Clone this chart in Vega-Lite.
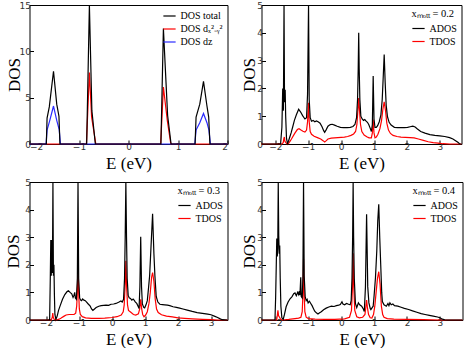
{
"$schema":"https://vega.github.io/schema/vega-lite/v6.json",
"padding":{"left":3.5,"top":0,"right":2,"bottom":0},
"spacing":5,
"resolve":{"scale":{"color":"independent"},"legend":{"color":"independent"}},
"config":{
 "view":{"stroke":"black","strokeWidth":1},
 "axis":{"grid":false,"domain":false,"tickSize":-4,"tickColor":"black","labelFont":"DejaVu Sans","labelFontSize":9,"labelColor":"#333","labelPadding":3,"titleFont":"Liberation Serif","titleFontSize":17,"titleFontWeight":"normal","titleColor":"black"},
 "axisX":{"titlePadding":4,"labelPadding":2},
 "legend":{"labelFont":"Liberation Serif","labelFontSize":10,"titleFont":"Liberation Serif","titleFontSize":10.5,"titleFontWeight":"normal","titleColor":"black","labelColor":"black","symbolType":"M-1,0L1,0","symbolStrokeWidth":2,"symbolSize":150,"rowPadding":1,"titlePadding":2,"offset":4,"padding":0,"labelLimit":200},
 "line":{"strokeWidth":1.2,"clip":true}
},
"datasets":{
"p1":[
{"s":"DOS total","E":-2,"v":0},{"s":"DOS total","E":-1.66,"v":0},{"s":"DOS total","E":-1.645,"v":2.8},{"s":"DOS total","E":-1.6,"v":4.0},{"s":"DOS total","E":-1.515,"v":7.85},{"s":"DOS total","E":-1.45,"v":4.3},{"s":"DOS total","E":-1.405,"v":3.0},{"s":"DOS total","E":-1.385,"v":0},{"s":"DOS total","E":-0.845,"v":0},{"s":"DOS total","E":-0.79,"v":15.6},{"s":"DOS total","E":-0.74,"v":3.6},{"s":"DOS total","E":-0.67,"v":0},{"s":"DOS total","E":0.655,"v":0},{"s":"DOS total","E":0.705,"v":12.45},{"s":"DOS total","E":0.79,"v":3.1},{"s":"DOS total","E":0.86,"v":0},{"s":"DOS total","E":1.345,"v":0},{"s":"DOS total","E":1.365,"v":2.9},{"s":"DOS total","E":1.44,"v":4.3},{"s":"DOS total","E":1.515,"v":6.75},{"s":"DOS total","E":1.585,"v":4.1},{"s":"DOS total","E":1.62,"v":2.9},{"s":"DOS total","E":1.645,"v":0},{"s":"DOS total","E":2,"v":0},
{"s":"DOS dₓ²₋ᵧ²","E":-2,"v":0},{"s":"DOS dₓ²₋ᵧ²","E":-0.85,"v":0},{"s":"DOS dₓ²₋ᵧ²","E":-0.79,"v":7.7},{"s":"DOS dₓ²₋ᵧ²","E":-0.745,"v":2.9},{"s":"DOS dₓ²₋ᵧ²","E":-0.66,"v":0},{"s":"DOS dₓ²₋ᵧ²","E":0.65,"v":0},{"s":"DOS dₓ²₋ᵧ²","E":0.705,"v":6.15},{"s":"DOS dₓ²₋ᵧ²","E":0.785,"v":2.5},{"s":"DOS dₓ²₋ᵧ²","E":0.855,"v":0},{"s":"DOS dₓ²₋ᵧ²","E":2,"v":0},
{"s":"DOS dz","E":-2,"v":0},{"s":"DOS dz","E":-1.665,"v":0},{"s":"DOS dz","E":-1.645,"v":1.5},{"s":"DOS dz","E":-1.59,"v":2.55},{"s":"DOS dz","E":-1.515,"v":4.1},{"s":"DOS dz","E":-1.45,"v":2.55},{"s":"DOS dz","E":-1.4,"v":1.55},{"s":"DOS dz","E":-1.375,"v":0},{"s":"DOS dz","E":1.34,"v":0},{"s":"DOS dz","E":1.365,"v":1.5},{"s":"DOS dz","E":1.44,"v":2.3},{"s":"DOS dz","E":1.515,"v":3.3},{"s":"DOS dz","E":1.585,"v":2.3},{"s":"DOS dz","E":1.625,"v":1.5},{"s":"DOS dz","E":1.655,"v":0},{"s":"DOS dz","E":2,"v":0}
],
"p2":[
{"s":"ADOS","E":-2.42,"v":0},{"s":"ADOS","E":-1.84,"v":0},{"s":"ADOS","E":-1.8,"v":0.6},{"s":"ADOS","E":-1.775,"v":2.0},{"s":"ADOS","E":-1.755,"v":1.2},{"s":"ADOS","E":-1.735,"v":5.6},{"s":"ADOS","E":-1.72,"v":1.5},{"s":"ADOS","E":-1.7,"v":1.95},{"s":"ADOS","E":-1.685,"v":1.0},{"s":"ADOS","E":-1.66,"v":0.2},{"s":"ADOS","E":-1.63,"v":0.02},{"s":"ADOS","E":-1.6,"v":0.1},{"s":"ADOS","E":-1.56,"v":0.25},{"s":"ADOS","E":-1.52,"v":0.4},{"s":"ADOS","E":-1.47,"v":0.62},{"s":"ADOS","E":-1.42,"v":0.85},{"s":"ADOS","E":-1.36,"v":1.05},{"s":"ADOS","E":-1.29,"v":1.25},{"s":"ADOS","E":-1.23,"v":1.15},{"s":"ADOS","E":-1.17,"v":1.02},{"s":"ADOS","E":-1.1,"v":0.9},{"s":"ADOS","E":-1.05,"v":0.95},{"s":"ADOS","E":-1.02,"v":1.8},{"s":"ADOS","E":-0.99,"v":5.6},{"s":"ADOS","E":-0.97,"v":1.6},{"s":"ADOS","E":-0.94,"v":0.95},{"s":"ADOS","E":-0.9,"v":0.82},{"s":"ADOS","E":-0.85,"v":0.85},{"s":"ADOS","E":-0.8,"v":0.8},{"s":"ADOS","E":-0.75,"v":0.83},{"s":"ADOS","E":-0.7,"v":0.8},{"s":"ADOS","E":-0.64,"v":0.75},{"s":"ADOS","E":-0.58,"v":0.62},{"s":"ADOS","E":-0.53,"v":0.48},{"s":"ADOS","E":-0.5,"v":0.42},{"s":"ADOS","E":-0.46,"v":0.5},{"s":"ADOS","E":-0.4,"v":0.64},{"s":"ADOS","E":-0.33,"v":0.7},{"s":"ADOS","E":-0.27,"v":0.71},{"s":"ADOS","E":-0.2,"v":0.68},{"s":"ADOS","E":-0.12,"v":0.64},{"s":"ADOS","E":-0.02,"v":0.6},{"s":"ADOS","E":0.08,"v":0.59},{"s":"ADOS","E":0.18,"v":0.59},{"s":"ADOS","E":0.28,"v":0.6},{"s":"ADOS","E":0.36,"v":0.63},{"s":"ADOS","E":0.42,"v":0.7},{"s":"ADOS","E":0.47,"v":0.95},{"s":"ADOS","E":0.5,"v":1.6},{"s":"ADOS","E":0.52,"v":2.7},{"s":"ADOS","E":0.535,"v":4.0},{"s":"ADOS","E":0.55,"v":2.7},{"s":"ADOS","E":0.57,"v":1.6},{"s":"ADOS","E":0.6,"v":1.0},{"s":"ADOS","E":0.64,"v":0.9},{"s":"ADOS","E":0.68,"v":0.85},{"s":"ADOS","E":0.72,"v":0.88},{"s":"ADOS","E":0.76,"v":0.82},{"s":"ADOS","E":0.8,"v":0.78},{"s":"ADOS","E":0.84,"v":0.7},{"s":"ADOS","E":0.88,"v":0.58},{"s":"ADOS","E":0.92,"v":0.45},{"s":"ADOS","E":0.95,"v":0.7},{"s":"ADOS","E":0.975,"v":2.45},{"s":"ADOS","E":1.0,"v":0.9},{"s":"ADOS","E":1.03,"v":0.6},{"s":"ADOS","E":1.07,"v":0.6},{"s":"ADOS","E":1.11,"v":0.66},{"s":"ADOS","E":1.16,"v":0.8},{"s":"ADOS","E":1.21,"v":1.05},{"s":"ADOS","E":1.25,"v":1.6},{"s":"ADOS","E":1.28,"v":2.4},{"s":"ADOS","E":1.31,"v":3.22},{"s":"ADOS","E":1.34,"v":2.2},{"s":"ADOS","E":1.37,"v":1.4},{"s":"ADOS","E":1.41,"v":0.98},{"s":"ADOS","E":1.46,"v":0.78},{"s":"ADOS","E":1.52,"v":0.68},{"s":"ADOS","E":1.62,"v":0.6},{"s":"ADOS","E":1.72,"v":0.59},{"s":"ADOS","E":1.82,"v":0.59},{"s":"ADOS","E":1.92,"v":0.59},{"s":"ADOS","E":2.02,"v":0.6},{"s":"ADOS","E":2.1,"v":0.62},{"s":"ADOS","E":2.18,"v":0.64},{"s":"ADOS","E":2.25,"v":0.61},{"s":"ADOS","E":2.32,"v":0.54},{"s":"ADOS","E":2.42,"v":0.45},{"s":"ADOS","E":2.55,"v":0.39},{"s":"ADOS","E":2.7,"v":0.34},{"s":"ADOS","E":2.85,"v":0.31},{"s":"ADOS","E":3.0,"v":0.29},{"s":"ADOS","E":3.15,"v":0.27},{"s":"ADOS","E":3.3,"v":0.23},{"s":"ADOS","E":3.4,"v":0.18},{"s":"ADOS","E":3.48,"v":0.12},{"s":"ADOS","E":3.55,"v":0.06},{"s":"ADOS","E":3.6,"v":0.01},{"s":"ADOS","E":3.66,"v":0},
{"s":"TDOS","E":-2.42,"v":0},{"s":"TDOS","E":-1.8,"v":0},{"s":"TDOS","E":-1.76,"v":0.05},{"s":"TDOS","E":-1.74,"v":0.2},{"s":"TDOS","E":-1.725,"v":0.25},{"s":"TDOS","E":-1.71,"v":0.1},{"s":"TDOS","E":-1.68,"v":0.05},{"s":"TDOS","E":-1.64,"v":0},{"s":"TDOS","E":-1.6,"v":0.02},{"s":"TDOS","E":-1.55,"v":0.1},{"s":"TDOS","E":-1.5,"v":0.2},{"s":"TDOS","E":-1.45,"v":0.3},{"s":"TDOS","E":-1.4,"v":0.4},{"s":"TDOS","E":-1.33,"v":0.52},{"s":"TDOS","E":-1.28,"v":0.55},{"s":"TDOS","E":-1.22,"v":0.5},{"s":"TDOS","E":-1.16,"v":0.46},{"s":"TDOS","E":-1.1,"v":0.43},{"s":"TDOS","E":-1.05,"v":0.5},{"s":"TDOS","E":-1.02,"v":0.8},{"s":"TDOS","E":-0.99,"v":1.48},{"s":"TDOS","E":-0.97,"v":0.8},{"s":"TDOS","E":-0.94,"v":0.45},{"s":"TDOS","E":-0.9,"v":0.35},{"s":"TDOS","E":-0.82,"v":0.28},{"s":"TDOS","E":-0.72,"v":0.23},{"s":"TDOS","E":-0.62,"v":0.18},{"s":"TDOS","E":-0.55,"v":0.12},{"s":"TDOS","E":-0.5,"v":0.07},{"s":"TDOS","E":-0.45,"v":0.12},{"s":"TDOS","E":-0.4,"v":0.18},{"s":"TDOS","E":-0.3,"v":0.21},{"s":"TDOS","E":-0.2,"v":0.22},{"s":"TDOS","E":-0.1,"v":0.23},{"s":"TDOS","E":0.0,"v":0.24},{"s":"TDOS","E":0.1,"v":0.25},{"s":"TDOS","E":0.2,"v":0.27},{"s":"TDOS","E":0.3,"v":0.31},{"s":"TDOS","E":0.38,"v":0.36},{"s":"TDOS","E":0.44,"v":0.45},{"s":"TDOS","E":0.48,"v":0.7},{"s":"TDOS","E":0.51,"v":1.2},{"s":"TDOS","E":0.535,"v":1.65},{"s":"TDOS","E":0.56,"v":1.2},{"s":"TDOS","E":0.59,"v":0.7},{"s":"TDOS","E":0.63,"v":0.45},{"s":"TDOS","E":0.7,"v":0.32},{"s":"TDOS","E":0.78,"v":0.26},{"s":"TDOS","E":0.85,"v":0.22},{"s":"TDOS","E":0.92,"v":0.22},{"s":"TDOS","E":0.95,"v":0.4},{"s":"TDOS","E":0.975,"v":0.88},{"s":"TDOS","E":1.0,"v":0.4},{"s":"TDOS","E":1.03,"v":0.22},{"s":"TDOS","E":1.07,"v":0.25},{"s":"TDOS","E":1.12,"v":0.35},{"s":"TDOS","E":1.18,"v":0.55},{"s":"TDOS","E":1.23,"v":0.85},{"s":"TDOS","E":1.27,"v":1.25},{"s":"TDOS","E":1.31,"v":1.52},{"s":"TDOS","E":1.35,"v":1.2},{"s":"TDOS","E":1.39,"v":0.75},{"s":"TDOS","E":1.44,"v":0.5},{"s":"TDOS","E":1.5,"v":0.38},{"s":"TDOS","E":1.58,"v":0.31},{"s":"TDOS","E":1.7,"v":0.27},{"s":"TDOS","E":1.82,"v":0.25},{"s":"TDOS","E":1.95,"v":0.24},{"s":"TDOS","E":2.1,"v":0.23},{"s":"TDOS","E":2.22,"v":0.22},{"s":"TDOS","E":2.35,"v":0.18},{"s":"TDOS","E":2.5,"v":0.13},{"s":"TDOS","E":2.65,"v":0.08},{"s":"TDOS","E":2.8,"v":0.05},{"s":"TDOS","E":2.95,"v":0.03},{"s":"TDOS","E":3.1,"v":0.01},{"s":"TDOS","E":3.3,"v":0},{"s":"TDOS","E":3.66,"v":0}
],
"p3":[
{"s":"ADOS","E":-2.5,"v":0},{"s":"ADOS","E":-1.89,"v":0},{"s":"ADOS","E":-1.87,"v":1.5},{"s":"ADOS","E":-1.855,"v":2.9},{"s":"ADOS","E":-1.84,"v":1.6},{"s":"ADOS","E":-1.82,"v":2.9},{"s":"ADOS","E":-1.805,"v":1.7},{"s":"ADOS","E":-1.79,"v":5.6},{"s":"ADOS","E":-1.775,"v":1.6},{"s":"ADOS","E":-1.76,"v":2.0},{"s":"ADOS","E":-1.745,"v":0.9},{"s":"ADOS","E":-1.73,"v":0.2},{"s":"ADOS","E":-1.7,"v":0.02},{"s":"ADOS","E":-1.66,"v":0.15},{"s":"ADOS","E":-1.62,"v":0.35},{"s":"ADOS","E":-1.57,"v":0.52},{"s":"ADOS","E":-1.5,"v":0.75},{"s":"ADOS","E":-1.43,"v":0.92},{"s":"ADOS","E":-1.36,"v":1.03},{"s":"ADOS","E":-1.32,"v":1.06},{"s":"ADOS","E":-1.27,"v":1.0},{"s":"ADOS","E":-1.22,"v":0.95},{"s":"ADOS","E":-1.18,"v":0.82},{"s":"ADOS","E":-1.15,"v":0.9},{"s":"ADOS","E":-1.13,"v":1.0},{"s":"ADOS","E":-1.11,"v":0.8},{"s":"ADOS","E":-1.08,"v":0.75},{"s":"ADOS","E":-1.05,"v":1.5},{"s":"ADOS","E":-1.03,"v":5.6},{"s":"ADOS","E":-1.01,"v":1.5},{"s":"ADOS","E":-0.98,"v":0.8},{"s":"ADOS","E":-0.95,"v":0.72},{"s":"ADOS","E":-0.92,"v":0.7},{"s":"ADOS","E":-0.89,"v":0.76},{"s":"ADOS","E":-0.85,"v":0.72},{"s":"ADOS","E":-0.81,"v":0.7},{"s":"ADOS","E":-0.77,"v":0.65},{"s":"ADOS","E":-0.72,"v":0.58},{"s":"ADOS","E":-0.66,"v":0.5},{"s":"ADOS","E":-0.62,"v":0.4},{"s":"ADOS","E":-0.58,"v":0.35},{"s":"ADOS","E":-0.53,"v":0.4},{"s":"ADOS","E":-0.48,"v":0.45},{"s":"ADOS","E":-0.4,"v":0.5},{"s":"ADOS","E":-0.33,"v":0.52},{"s":"ADOS","E":-0.25,"v":0.53},{"s":"ADOS","E":-0.18,"v":0.54},{"s":"ADOS","E":-0.1,"v":0.53},{"s":"ADOS","E":-0.03,"v":0.57},{"s":"ADOS","E":0.05,"v":0.58},{"s":"ADOS","E":0.12,"v":0.6},{"s":"ADOS","E":0.2,"v":0.64},{"s":"ADOS","E":0.27,"v":0.69},{"s":"ADOS","E":0.31,"v":0.65},{"s":"ADOS","E":0.35,"v":0.75},{"s":"ADOS","E":0.38,"v":1.5},{"s":"ADOS","E":0.4,"v":3.0},{"s":"ADOS","E":0.42,"v":5.6},{"s":"ADOS","E":0.44,"v":3.0},{"s":"ADOS","E":0.46,"v":1.5},{"s":"ADOS","E":0.49,"v":0.9},{"s":"ADOS","E":0.52,"v":0.8},{"s":"ADOS","E":0.56,"v":0.78},{"s":"ADOS","E":0.6,"v":0.72},{"s":"ADOS","E":0.64,"v":0.76},{"s":"ADOS","E":0.67,"v":0.72},{"s":"ADOS","E":0.71,"v":0.65},{"s":"ADOS","E":0.75,"v":0.6},{"s":"ADOS","E":0.79,"v":0.5},{"s":"ADOS","E":0.82,"v":0.42},{"s":"ADOS","E":0.845,"v":1.2},{"s":"ADOS","E":0.87,"v":3.02},{"s":"ADOS","E":0.895,"v":1.2},{"s":"ADOS","E":0.92,"v":0.58},{"s":"ADOS","E":0.96,"v":0.46},{"s":"ADOS","E":0.99,"v":0.44},{"s":"ADOS","E":1.03,"v":0.55},{"s":"ADOS","E":1.07,"v":0.7},{"s":"ADOS","E":1.11,"v":1.2},{"s":"ADOS","E":1.14,"v":1.6},{"s":"ADOS","E":1.18,"v":2.6},{"s":"ADOS","E":1.23,"v":3.85},{"s":"ADOS","E":1.27,"v":2.4},{"s":"ADOS","E":1.3,"v":1.6},{"s":"ADOS","E":1.34,"v":0.85},{"s":"ADOS","E":1.39,"v":0.65},{"s":"ADOS","E":1.45,"v":0.57},{"s":"ADOS","E":1.53,"v":0.56},{"s":"ADOS","E":1.6,"v":0.55},{"s":"ADOS","E":1.68,"v":0.54},{"s":"ADOS","E":1.75,"v":0.52},{"s":"ADOS","E":1.85,"v":0.48},{"s":"ADOS","E":1.95,"v":0.46},{"s":"ADOS","E":2.05,"v":0.43},{"s":"ADOS","E":2.15,"v":0.4},{"s":"ADOS","E":2.28,"v":0.36},{"s":"ADOS","E":2.43,"v":0.31},{"s":"ADOS","E":2.58,"v":0.27},{"s":"ADOS","E":2.74,"v":0.24},{"s":"ADOS","E":2.9,"v":0.21},{"s":"ADOS","E":3.0,"v":0.19},{"s":"ADOS","E":3.1,"v":0.14},{"s":"ADOS","E":3.2,"v":0.09},{"s":"ADOS","E":3.28,"v":0.04},{"s":"ADOS","E":3.34,"v":0.01},{"s":"ADOS","E":3.5,"v":0},
{"s":"TDOS","E":-2.5,"v":0},{"s":"TDOS","E":-1.84,"v":0},{"s":"TDOS","E":-1.81,"v":0.1},{"s":"TDOS","E":-1.795,"v":0.25},{"s":"TDOS","E":-1.78,"v":0.1},{"s":"TDOS","E":-1.75,"v":0.02},{"s":"TDOS","E":-1.7,"v":0},{"s":"TDOS","E":-1.6,"v":0.03},{"s":"TDOS","E":-1.54,"v":0.07},{"s":"TDOS","E":-1.45,"v":0.14},{"s":"TDOS","E":-1.39,"v":0.18},{"s":"TDOS","E":-1.3,"v":0.2},{"s":"TDOS","E":-1.23,"v":0.2},{"s":"TDOS","E":-1.15,"v":0.2},{"s":"TDOS","E":-1.1,"v":0.25},{"s":"TDOS","E":-1.07,"v":0.5},{"s":"TDOS","E":-1.05,"v":1.0},{"s":"TDOS","E":-1.03,"v":1.86},{"s":"TDOS","E":-1.01,"v":1.0},{"s":"TDOS","E":-0.99,"v":0.4},{"s":"TDOS","E":-0.96,"v":0.2},{"s":"TDOS","E":-0.9,"v":0.12},{"s":"TDOS","E":-0.8,"v":0.08},{"s":"TDOS","E":-0.63,"v":0.06},{"s":"TDOS","E":-0.4,"v":0.06},{"s":"TDOS","E":-0.22,"v":0.07},{"s":"TDOS","E":0.0,"v":0.09},{"s":"TDOS","E":0.15,"v":0.12},{"s":"TDOS","E":0.28,"v":0.18},{"s":"TDOS","E":0.34,"v":0.3},{"s":"TDOS","E":0.37,"v":0.55},{"s":"TDOS","E":0.4,"v":1.3},{"s":"TDOS","E":0.42,"v":2.15},{"s":"TDOS","E":0.44,"v":1.3},{"s":"TDOS","E":0.47,"v":0.55},{"s":"TDOS","E":0.5,"v":0.35},{"s":"TDOS","E":0.57,"v":0.28},{"s":"TDOS","E":0.65,"v":0.2},{"s":"TDOS","E":0.72,"v":0.18},{"s":"TDOS","E":0.8,"v":0.22},{"s":"TDOS","E":0.84,"v":0.4},{"s":"TDOS","E":0.87,"v":0.75},{"s":"TDOS","E":0.9,"v":0.4},{"s":"TDOS","E":0.93,"v":0.2},{"s":"TDOS","E":0.97,"v":0.12},{"s":"TDOS","E":1.02,"v":0.18},{"s":"TDOS","E":1.07,"v":0.3},{"s":"TDOS","E":1.12,"v":0.6},{"s":"TDOS","E":1.16,"v":1.0},{"s":"TDOS","E":1.2,"v":1.55},{"s":"TDOS","E":1.23,"v":1.72},{"s":"TDOS","E":1.27,"v":1.4},{"s":"TDOS","E":1.31,"v":0.75},{"s":"TDOS","E":1.35,"v":0.4},{"s":"TDOS","E":1.4,"v":0.27},{"s":"TDOS","E":1.5,"v":0.19},{"s":"TDOS","E":1.65,"v":0.14},{"s":"TDOS","E":1.83,"v":0.11},{"s":"TDOS","E":2.0,"v":0.08},{"s":"TDOS","E":2.2,"v":0.06},{"s":"TDOS","E":2.43,"v":0.04},{"s":"TDOS","E":2.74,"v":0.02},{"s":"TDOS","E":3.0,"v":0.01},{"s":"TDOS","E":3.2,"v":0},{"s":"TDOS","E":3.5,"v":0}
],
"p4":[
{"s":"ADOS","E":-2.43,"v":0},{"s":"ADOS","E":-2.02,"v":0},{"s":"ADOS","E":-2.0,"v":0.8},{"s":"ADOS","E":-1.98,"v":2.0},{"s":"ADOS","E":-1.965,"v":2.95},{"s":"ADOS","E":-1.95,"v":2.3},{"s":"ADOS","E":-1.935,"v":2.6},{"s":"ADOS","E":-1.92,"v":5.6},{"s":"ADOS","E":-1.905,"v":3.05},{"s":"ADOS","E":-1.89,"v":2.4},{"s":"ADOS","E":-1.875,"v":2.7},{"s":"ADOS","E":-1.86,"v":1.5},{"s":"ADOS","E":-1.84,"v":0.5},{"s":"ADOS","E":-1.81,"v":0.08},{"s":"ADOS","E":-1.77,"v":0.02},{"s":"ADOS","E":-1.73,"v":0.2},{"s":"ADOS","E":-1.68,"v":0.48},{"s":"ADOS","E":-1.62,"v":0.65},{"s":"ADOS","E":-1.56,"v":0.77},{"s":"ADOS","E":-1.5,"v":0.85},{"s":"ADOS","E":-1.45,"v":0.95},{"s":"ADOS","E":-1.41,"v":0.98},{"s":"ADOS","E":-1.37,"v":0.88},{"s":"ADOS","E":-1.33,"v":1.0},{"s":"ADOS","E":-1.3,"v":0.92},{"s":"ADOS","E":-1.28,"v":1.05},{"s":"ADOS","E":-1.26,"v":0.9},{"s":"ADOS","E":-1.235,"v":1.55},{"s":"ADOS","E":-1.22,"v":0.85},{"s":"ADOS","E":-1.19,"v":0.8},{"s":"ADOS","E":-1.17,"v":1.5},{"s":"ADOS","E":-1.15,"v":5.6},{"s":"ADOS","E":-1.13,"v":1.6},{"s":"ADOS","E":-1.1,"v":0.85},{"s":"ADOS","E":-1.07,"v":0.7},{"s":"ADOS","E":-1.04,"v":0.75},{"s":"ADOS","E":-1.01,"v":0.62},{"s":"ADOS","E":-0.97,"v":0.68},{"s":"ADOS","E":-0.93,"v":0.6},{"s":"ADOS","E":-0.89,"v":0.52},{"s":"ADOS","E":-0.85,"v":0.42},{"s":"ADOS","E":-0.81,"v":0.32},{"s":"ADOS","E":-0.76,"v":0.26},{"s":"ADOS","E":-0.71,"v":0.22},{"s":"ADOS","E":-0.66,"v":0.26},{"s":"ADOS","E":-0.61,"v":0.3},{"s":"ADOS","E":-0.54,"v":0.37},{"s":"ADOS","E":-0.46,"v":0.43},{"s":"ADOS","E":-0.38,"v":0.47},{"s":"ADOS","E":-0.3,"v":0.5},{"s":"ADOS","E":-0.22,"v":0.49},{"s":"ADOS","E":-0.15,"v":0.52},{"s":"ADOS","E":-0.08,"v":0.54},{"s":"ADOS","E":-0.03,"v":0.56},{"s":"ADOS","E":0.02,"v":0.66},{"s":"ADOS","E":0.05,"v":0.58},{"s":"ADOS","E":0.1,"v":0.55},{"s":"ADOS","E":0.16,"v":0.6},{"s":"ADOS","E":0.22,"v":0.57},{"s":"ADOS","E":0.27,"v":0.55},{"s":"ADOS","E":0.3,"v":0.7},{"s":"ADOS","E":0.325,"v":1.5},{"s":"ADOS","E":0.345,"v":3.0},{"s":"ADOS","E":0.36,"v":5.6},{"s":"ADOS","E":0.375,"v":3.0},{"s":"ADOS","E":0.395,"v":1.5},{"s":"ADOS","E":0.43,"v":0.6},{"s":"ADOS","E":0.47,"v":0.45},{"s":"ADOS","E":0.52,"v":0.62},{"s":"ADOS","E":0.56,"v":0.55},{"s":"ADOS","E":0.62,"v":0.5},{"s":"ADOS","E":0.67,"v":0.4},{"s":"ADOS","E":0.7,"v":0.31},{"s":"ADOS","E":0.735,"v":1.2},{"s":"ADOS","E":0.77,"v":3.83},{"s":"ADOS","E":0.805,"v":1.2},{"s":"ADOS","E":0.84,"v":0.62},{"s":"ADOS","E":0.88,"v":0.42},{"s":"ADOS","E":0.9,"v":0.38},{"s":"ADOS","E":0.94,"v":0.45},{"s":"ADOS","E":0.97,"v":0.5},{"s":"ADOS","E":1.0,"v":0.9},{"s":"ADOS","E":1.04,"v":1.53},{"s":"ADOS","E":1.08,"v":2.5},{"s":"ADOS","E":1.11,"v":3.6},{"s":"ADOS","E":1.14,"v":4.19},{"s":"ADOS","E":1.17,"v":3.0},{"s":"ADOS","E":1.2,"v":2.0},{"s":"ADOS","E":1.23,"v":1.0},{"s":"ADOS","E":1.25,"v":0.67},{"s":"ADOS","E":1.3,"v":0.55},{"s":"ADOS","E":1.37,"v":0.5},{"s":"ADOS","E":1.42,"v":0.6},{"s":"ADOS","E":1.45,"v":0.52},{"s":"ADOS","E":1.48,"v":0.62},{"s":"ADOS","E":1.52,"v":0.55},{"s":"ADOS","E":1.57,"v":0.58},{"s":"ADOS","E":1.62,"v":0.52},{"s":"ADOS","E":1.72,"v":0.5},{"s":"ADOS","E":1.82,"v":0.46},{"s":"ADOS","E":1.92,"v":0.42},{"s":"ADOS","E":2.05,"v":0.38},{"s":"ADOS","E":2.17,"v":0.33},{"s":"ADOS","E":2.3,"v":0.28},{"s":"ADOS","E":2.43,"v":0.23},{"s":"ADOS","E":2.55,"v":0.2},{"s":"ADOS","E":2.68,"v":0.17},{"s":"ADOS","E":2.8,"v":0.14},{"s":"ADOS","E":2.93,"v":0.11},{"s":"ADOS","E":3.0,"v":0.08},{"s":"ADOS","E":3.08,"v":0.03},{"s":"ADOS","E":3.15,"v":0.01},{"s":"ADOS","E":3.23,"v":0},{"s":"ADOS","E":3.69,"v":0},
{"s":"TDOS","E":-2.43,"v":0},{"s":"TDOS","E":-1.97,"v":0},{"s":"TDOS","E":-1.95,"v":0.15},{"s":"TDOS","E":-1.93,"v":0.35},{"s":"TDOS","E":-1.91,"v":0.15},{"s":"TDOS","E":-1.88,"v":0.1},{"s":"TDOS","E":-1.85,"v":0.03},{"s":"TDOS","E":-1.8,"v":0},{"s":"TDOS","E":-1.6,"v":0.02},{"s":"TDOS","E":-1.41,"v":0.05},{"s":"TDOS","E":-1.3,"v":0.07},{"s":"TDOS","E":-1.23,"v":0.1},{"s":"TDOS","E":-1.19,"v":0.3},{"s":"TDOS","E":-1.17,"v":0.9},{"s":"TDOS","E":-1.15,"v":2.22},{"s":"TDOS","E":-1.13,"v":0.9},{"s":"TDOS","E":-1.11,"v":0.3},{"s":"TDOS","E":-1.07,"v":0.1},{"s":"TDOS","E":-1.0,"v":0.05},{"s":"TDOS","E":-0.8,"v":0.03},{"s":"TDOS","E":-0.5,"v":0.02},{"s":"TDOS","E":-0.2,"v":0.02},{"s":"TDOS","E":0.1,"v":0.04},{"s":"TDOS","E":0.25,"v":0.1},{"s":"TDOS","E":0.31,"v":0.35},{"s":"TDOS","E":0.34,"v":1.2},{"s":"TDOS","E":0.36,"v":2.42},{"s":"TDOS","E":0.38,"v":1.2},{"s":"TDOS","E":0.41,"v":0.35},{"s":"TDOS","E":0.47,"v":0.12},{"s":"TDOS","E":0.55,"v":0.08},{"s":"TDOS","E":0.65,"v":0.1},{"s":"TDOS","E":0.72,"v":0.2},{"s":"TDOS","E":0.745,"v":0.45},{"s":"TDOS","E":0.77,"v":0.72},{"s":"TDOS","E":0.795,"v":0.45},{"s":"TDOS","E":0.83,"v":0.2},{"s":"TDOS","E":0.88,"v":0.08},{"s":"TDOS","E":0.93,"v":0.07},{"s":"TDOS","E":0.98,"v":0.2},{"s":"TDOS","E":1.02,"v":0.5},{"s":"TDOS","E":1.06,"v":1.0},{"s":"TDOS","E":1.1,"v":1.5},{"s":"TDOS","E":1.14,"v":1.75},{"s":"TDOS","E":1.18,"v":1.3},{"s":"TDOS","E":1.22,"v":0.5},{"s":"TDOS","E":1.26,"v":0.2},{"s":"TDOS","E":1.3,"v":0.1},{"s":"TDOS","E":1.4,"v":0.05},{"s":"TDOS","E":1.6,"v":0.03},{"s":"TDOS","E":2.0,"v":0.02},{"s":"TDOS","E":2.5,"v":0.01},{"s":"TDOS","E":3.0,"v":0},{"s":"TDOS","E":3.69,"v":0}
]
},
"vconcat":[
 {"spacing":9,"resolve":{"scale":{"color":"independent"},"legend":{"color":"independent"}},
  "hconcat":[
  {"width":198,"height":139,"data":{"name":"p1"},
   "encoding":{
    "x":{"field":"E","type":"quantitative","scale":{"domain":[-2,2],"nice":false,"zero":false},"axis":{"title":"E (eV)","values":[-2,-1,0,1,2]}},
    "y":{"field":"v","type":"quantitative","scale":{"domain":[0,15],"nice":false,"clamp":true},"axis":{"title":"DOS","values":[0,5,10,15],"titlePadding":-4}},
    "color":{"field":"s","type":"nominal","scale":{"domain":["DOS total","DOS dₓ²₋ᵧ²","DOS dz"],"range":["#000000","#ff0000","#2a2aff"]},"legend":{"title":null,"orient":"top-right"}}},
   "layer":[
    {"transform":[{"filter":"datum.s=='DOS dₓ²₋ᵧ²'"}],"mark":"line"},
    {"transform":[{"filter":"datum.s=='DOS dz'"}],"mark":"line"},
    {"transform":[{"filter":"datum.s=='DOS total'"}],"mark":"line"}]},
  {"width":200,"height":139,"data":{"name":"p2"},
   "encoding":{
    "x":{"field":"E","type":"quantitative","scale":{"domain":[-2.42,3.66],"nice":false,"zero":false},"axis":{"title":"E (eV)","values":[-2,-1,0,1,2,3]}},
    "y":{"field":"v","type":"quantitative","scale":{"domain":[0,5],"nice":false,"clamp":true},"axis":{"title":"DOS","values":[0,1,2,3,4,5],"titlePadding":-2}},
    "color":{"field":"s","type":"nominal","scale":{"domain":["ADOS","TDOS"],"range":["#000000","#ff0000"]},"legend":{"title":"xₘₒₜₜ = 0.2","orient":"top-right"}}},
   "layer":[
    {"transform":[{"filter":"datum.s=='TDOS'"}],"mark":"line"},
    {"transform":[{"filter":"datum.s=='ADOS'"}],"mark":"line"}]}
 ]},
 {"spacing":9,"resolve":{"scale":{"color":"independent"},"legend":{"color":"independent"}},
  "hconcat":[
  {"width":198,"height":138,"data":{"name":"p3"},
   "encoding":{
    "x":{"field":"E","type":"quantitative","scale":{"domain":[-2.5,3.5],"nice":false,"zero":false},"axis":{"title":"E (eV)","values":[-2,-1,0,1,2,3]}},
    "y":{"field":"v","type":"quantitative","scale":{"domain":[0,5],"nice":false,"clamp":true},"axis":{"title":"DOS","values":[0,1,2,3,4,5],"titlePadding":2}},
    "color":{"field":"s","type":"nominal","scale":{"domain":["ADOS","TDOS"],"range":["#000000","#ff0000"]},"legend":{"title":"xₘₒₜₜ = 0.3","orient":"top-right"}}},
   "layer":[
    {"transform":[{"filter":"datum.s=='TDOS'"}],"mark":"line"},
    {"transform":[{"filter":"datum.s=='ADOS'"}],"mark":"line"}]},
  {"width":201,"height":138,"data":{"name":"p4"},
   "encoding":{
    "x":{"field":"E","type":"quantitative","scale":{"domain":[-2.43,3.69],"nice":false,"zero":false},"axis":{"title":"E (eV)","values":[-2,-1,0,1,2,3]}},
    "y":{"field":"v","type":"quantitative","scale":{"domain":[0,5],"nice":false,"clamp":true},"axis":{"title":"DOS","values":[0,1,2,3,4,5],"titlePadding":-2}},
    "color":{"field":"s","type":"nominal","scale":{"domain":["ADOS","TDOS"],"range":["#000000","#ff0000"]},"legend":{"title":"xₘₒₜₜ = 0.4","orient":"top-right"}}},
   "layer":[
    {"transform":[{"filter":"datum.s=='TDOS'"}],"mark":"line"},
    {"transform":[{"filter":"datum.s=='ADOS'"}],"mark":"line"}]}
 ]}
]
}
